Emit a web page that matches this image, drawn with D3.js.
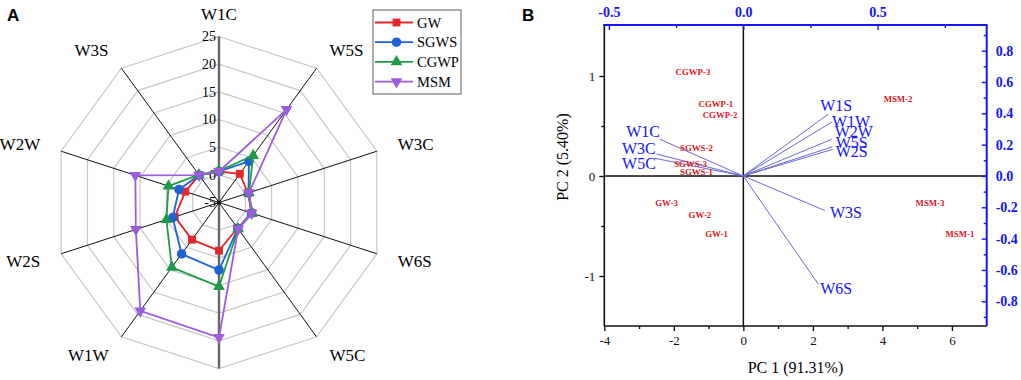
<!DOCTYPE html>
<html>
<head>
<meta charset="utf-8">
<script src="https://cdn.jsdelivr.net/npm/d3@7"></script>
<style>
  body { margin: 0; background: #fff; }
  text { font-family: "Liberation Serif", "Times New Roman", serif; }
  .panel { font-family: "Liberation Sans", Arial, sans-serif; font-weight: bold; font-size: 17px; }
</style>
</head>
<body>
<svg id="chart" width="1021" height="380"></svg>
<script>
// ---- panel A : radar data ----
var sensors = ["W1C", "W5S", "W3C", "W6S", "W5C", "W1S", "W1W", "W2S", "W2W", "W3S"];
var groups = ["GW", "SGWS", "CGWP", "MSM"];
var gwValues   = [0.6, 1.4, 0.5, 1.2, 0.7, 3.7, 3.3, 3.4, 1.4, 1.1];
var sgwsValues = [0.6, 4.2, 0.6, 1.2, 0.8, 7.2, 6.5, 3.8, 2.6, 1.1];
var cgwpValues = [0.7, 5.5, 0.7, 1.3, 0.9, 10.2, 9.5, 5.0, 4.6, 1.2];
var msmValues  = [0.6, 15.8, 0.7, 1.2, 0.9, 19.4, 19.2, 10.8, 10.9, 1.1];
var radarTicks = [-5, 0, 5, 10, 15, 20, 25];

// ---- panel B : PCA biplot data ----
var sampleNames = ["CGWP-3", "CGWP-1", "CGWP-2", "SGWS-2", "SGWS-3", "SGWS-1",
                   "GW-3", "GW-2", "GW-1", "MSM-2", "MSM-3", "MSM-1"];
var pc1Scores = [-1.45, -0.79, -0.67, -1.35, -1.52, -1.35, -2.21, -1.25, -0.77, 4.45, 5.37, 6.23];
var pc2Scores = [1.04, 0.72, 0.61, 0.28, 0.12, 0.04, -0.27, -0.39, -0.58, 0.77, -0.27, -0.58];

var loadingNames = ["W1S", "W1W", "W2W", "W5S", "W2S", "W1C", "W3C", "W5C", "W3S", "W6S"];
var loadingPC1 = [0.316, 0.330, 0.329, 0.333, 0.333, -0.310, -0.322, -0.329, 0.304, 0.279];
var loadingPC2 = [0.394, 0.345, 0.234, 0.187, 0.170, 0.234, 0.140, 0.113, -0.221, -0.690];

var bottomTicks = [-4, -2, 0, 2, 4, 6];
var leftTicks = [-1, 0, 1];
var topTicks = [-0.5, 0, 0.5];
var rightTicks = [-0.8, -0.6, -0.4, -0.2, 0, 0.2, 0.4, 0.6, 0.8];

var colors = { GW: "#e5262b", SGWS: "#1e63d6", CGWP: "#1f9a48", MSM: "#9d5ce0" };
var symbols = { GW: d3.symbolSquare, SGWS: d3.symbolCircle, CGWP: d3.symbolTriangle, MSM: d3.symbolTriangle };
var symSize = { GW: 62, SGWS: 72, CGWP: 60, MSM: 60 };
var blue = "#1515f0";

var svg = d3.select("#chart");
svg.append("rect").attr("width", 1021).attr("height", 380).attr("fill", "#fff");

// ================= Panel A =================
var cx = 219, cy = 202.5, R = 166;
var rScale = d3.scaleLinear().domain([-5, 25]).range([0, R]);
var angle = d3.scalePoint().domain(sensors.concat(["_end"])).range([0, 2 * Math.PI]);

function pt(name, v) {
  var a = angle(name), r = rScale(v);
  return [cx + r * Math.sin(a), cy - r * Math.cos(a)];
}

var gA = svg.append("g");

// rings
radarTicks.slice(1).forEach(function(t) {
  gA.append("polygon")
    .attr("points", sensors.map(function(s) { return pt(s, t).join(","); }).join(" "))
    .attr("fill", "none")
    .attr("stroke", "#c8c8c8")
    .attr("stroke-width", 1.2);
});

// spokes
sensors.forEach(function(s) {
  var p = pt(s, 25);
  var vertical = (s === "W1C" || s === "W1S");
  gA.append("line")
    .attr("x1", cx).attr("y1", cy).attr("x2", p[0]).attr("y2", p[1])
    .attr("stroke", vertical ? "#666" : "#111")
    .attr("stroke-width", vertical ? 2.4 : 1);
});
gA.append("circle").attr("cx", cx).attr("cy", cy).attr("r", 2).attr("fill", "#111");

// radial tick labels
gA.selectAll("text.rt")
  .data(radarTicks)
  .enter().append("text")
  .attr("class", "rt")
  .attr("x", cx - 3)
  .attr("y", function(d) { return cy - rScale(d); })
  .attr("dy", "0.35em")
  .attr("text-anchor", "end")
  .attr("font-size", 14)
  .text(function(d) { return d; });

// sensor labels (the bottom one, W1S, falls below the picture edge in the original)
sensors.forEach(function(s) {
  if (s === "W1S") return;
  var a = angle(s), r = 188;
  var sx = Math.sin(a), x = cx + r * sx, y = cy - r * Math.cos(a);
  gA.append("text")
    .attr("x", x).attr("y", y)
    .attr("dy", "0.35em")
    .attr("text-anchor", sx > 0.1 ? "start" : (sx < -0.1 ? "end" : "middle"))
    .attr("font-size", 17)
    .text(s);
});

// series
var seriesValues = [gwValues, sgwsValues, cgwpValues, msmValues];
var line = d3.line();
groups.forEach(function(g, gi) {
  var vals = seriesValues[gi];
  var pts = sensors.map(function(s, i) { return pt(s, vals[i]); });
  gA.append("path")
    .attr("d", line(pts) + "Z")
    .attr("fill", "none")
    .attr("stroke", colors[g])
    .attr("stroke-width", 1.8);
  gA.selectAll("path.m" + gi)
    .data(pts)
    .enter().append("path")
    .attr("class", "m" + gi)
    .attr("transform", function(d) { return "translate(" + d[0] + "," + d[1] + ")" + (g === "MSM" ? " rotate(180)" : ""); })
    .attr("d", d3.symbol().type(symbols[g]).size(symSize[g]))
    .attr("fill", colors[g]);
});

// legend
var lg = gA.append("g").attr("transform", "translate(373,10)");
lg.append("rect").attr("width", 88).attr("height", 84)
  .attr("fill", "#fff").attr("stroke", "#777").attr("stroke-width", 1.2);
groups.forEach(function(g, i) {
  var y = 12.5 + i * 19.7;
  lg.append("line").attr("x1", 2).attr("x2", 40).attr("y1", y).attr("y2", y)
    .attr("stroke", colors[g]).attr("stroke-width", 1.8);
  lg.append("path")
    .attr("transform", "translate(23.5," + y + ")" + (g === "MSM" ? " rotate(180)" : ""))
    .attr("d", d3.symbol().type(symbols[g]).size(symSize[g]))
    .attr("fill", colors[g]);
  lg.append("text").attr("x", 44).attr("y", y).attr("dy", "0.35em")
    .attr("font-size", 14.5).text(g);
});

svg.append("text").attr("class", "panel").attr("x", 7).attr("y", 21).text("A");

// ================= Panel B =================
var x0 = 604.3, x1 = 986.7, y0 = 25, y1 = 326;
var xScale = d3.scaleLinear().domain([-4, 7]).range([x0, x1]);
var yScale = d3.scaleLinear().domain([-1.5, 1.51]).range([y1, y0]);
var xTop = d3.scaleLinear().domain([-0.517, 0.906]).range([x0, x1]);
var yRight = d3.scaleLinear().domain([-0.958, 0.964]).range([y1, y0]);

var intFmt = function(d) { return String(d); };
var oneDec = function(d) { return (Math.abs(d) < 1e-9 ? 0 : d).toFixed(1); };

var gB = svg.append("g");

// zero lines
gB.append("line").attr("x1", xScale(0)).attr("x2", xScale(0)).attr("y1", y0).attr("y2", y1)
  .attr("stroke", "#111").attr("stroke-width", 1.5);
gB.append("line").attr("x1", x0).attr("x2", x1).attr("y1", yScale(0)).attr("y2", yScale(0))
  .attr("stroke", "#111").attr("stroke-width", 1.5);

// bottom axis
gB.append("g").attr("transform", "translate(0," + y1 + ")")
  .call(d3.axisBottom(xScale).tickValues(bottomTicks).tickSize(5).tickSizeOuter(0).tickPadding(5).tickFormat(intFmt));
gB.append("g").attr("transform", "translate(0," + y1 + ")")
  .call(d3.axisBottom(xScale).tickValues([-3, -1, 1, 3, 5]).tickSize(3).tickFormat(""));
// left axis
gB.append("g").attr("transform", "translate(" + x0 + ",0)")
  .call(d3.axisLeft(yScale).tickValues(leftTicks).tickSize(5).tickSizeOuter(0).tickPadding(4).tickFormat(intFmt));
gB.append("g").attr("transform", "translate(" + x0 + ",0)")
  .call(d3.axisLeft(yScale).tickValues([-0.5, 0.5]).tickSize(3).tickFormat(""));
// top axis (loadings)
gB.append("g").attr("class", "blueax").attr("transform", "translate(0," + y0 + ")")
  .call(d3.axisTop(xTop).tickValues(topTicks).tickSize(-5).tickPadding(8).tickFormat(oneDec));
gB.append("g").attr("class", "blueax").attr("transform", "translate(0," + y0 + ")")
  .call(d3.axisTop(xTop).tickValues([-0.25, 0.25, 0.75]).tickSize(-3).tickFormat(""));
// right axis (loadings)
gB.append("g").attr("class", "blueax").attr("transform", "translate(" + x1 + ",0)")
  .call(d3.axisRight(yRight).tickValues(rightTicks).tickSize(-5).tickPadding(9).tickFormat(oneDec));
gB.append("g").attr("class", "blueax").attr("transform", "translate(" + x1 + ",0)")
  .call(d3.axisRight(yRight).tickValues([-0.9, -0.7, -0.5, -0.3, -0.1, 0.1, 0.3, 0.5, 0.7, 0.9]).tickSize(-3).tickFormat(""));

gB.selectAll(".domain").remove();
gB.selectAll(".tick line").attr("stroke", "#111").attr("stroke-width", 1.4);
gB.selectAll(".tick text").attr("font-family", "Liberation Serif, serif").attr("font-size", 13).attr("fill", "#111");
gB.selectAll(".blueax .tick line").attr("stroke", blue);
gB.selectAll(".blueax .tick text").attr("fill", blue).attr("font-size", 14).attr("font-weight", "bold");

// frame
gB.append("line").attr("x1", x0).attr("x2", x0).attr("y1", y0).attr("y2", y1)
  .attr("stroke", "#111").attr("stroke-width", 1.6);
gB.append("line").attr("x1", x0).attr("x2", x1).attr("y1", y1).attr("y2", y1)
  .attr("stroke", "#111").attr("stroke-width", 1.6);
gB.append("line").attr("x1", x0 - 1).attr("x2", x1 + 1).attr("y1", y0).attr("y2", y0)
  .attr("stroke", blue).attr("stroke-width", 2);
gB.append("line").attr("x1", x1).attr("x2", x1).attr("y1", y0).attr("y2", y1)
  .attr("stroke", blue).attr("stroke-width", 2);

// loading vectors
var nudge = {
  W1S: [-8, -9, "start"], W1W: [0, -1, "start"], W2W: [3, -8, "start"], W5S: [3, -4, "start"],
  W2S: [3, 2, "start"], W1C: [0, -8, "end"], W3C: [-1, -6, "end"], W5C: [1, 5, "end"],
  W3S: [5, 2, "start"], W6S: [2, 4, "start"]
};
loadingNames.forEach(function(n, i) {
  var px = xTop(loadingPC1[i]), py = yRight(loadingPC2[i]);
  gB.append("line")
    .attr("x1", xTop(0)).attr("y1", yRight(0)).attr("x2", px).attr("y2", py)
    .attr("stroke", "#6a6ad2").attr("stroke-width", 1);
  var nd = nudge[n];
  gB.append("text")
    .attr("x", px + nd[0]).attr("y", py + nd[1]).attr("dy", "0.35em")
    .attr("text-anchor", nd[2])
    .attr("font-size", 16).attr("fill", blue)
    .text(n);
});

// sample scores
gB.selectAll("text.score")
  .data(sampleNames)
  .enter().append("text")
  .attr("class", "score")
  .attr("x", function(d, i) { return xScale(pc1Scores[i]); })
  .attr("y", function(d, i) { return yScale(pc2Scores[i]); })
  .attr("dy", "0.35em")
  .attr("text-anchor", "middle")
  .attr("font-size", 8.8)
  .attr("font-weight", "bold")
  .attr("fill", "#e0141e")
  .text(function(d) { return d; });

// axis titles
gB.append("text").attr("x", 795.5).attr("y", 367).attr("dy", "0.35em")
  .attr("text-anchor", "middle").attr("font-size", 16).text("PC 1 (91.31%)");
gB.append("text").attr("transform", "translate(562,157) rotate(-90)").attr("dy", "0.35em")
  .attr("text-anchor", "middle").attr("font-size", 16).text("PC 2 (5.40%)");

svg.append("text").attr("class", "panel").attr("x", 522).attr("y", 21).text("B");
</script>
</body>
</html>
